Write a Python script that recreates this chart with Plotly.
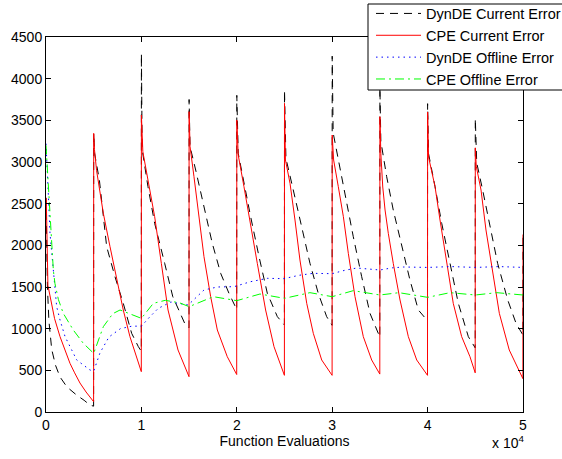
import plotly.graph_objects as go

# ---- data (function evaluations, error) ----
dynde_cur_x = [0, 150, 300, 600, 1000, 1470, 2200, 3200, 4000, 4600, 4990,
               5000, 5100, 5600, 6360, 7230, 8100, 8980, 9680, 9990,
               10000, 10080, 10690, 11390, 12440, 13290, 14540, 14990,
               15000, 15100, 15690, 16560, 17430, 18310, 19180, 19990,
               20000, 20150, 20750, 21450, 22330, 23200, 24250, 24990,
               25000, 25150, 25920, 26800, 27670, 28540, 29420, 29990,
               30000, 30100, 30640, 31340, 32210, 33090, 33960, 34990,
               35000, 35100, 35710, 36400, 37290, 38150, 39030, 39990,
               40000, 40100, 40780, 41480, 42350, 43220, 44270, 44990,
               45000, 45150, 45770, 46470, 47340, 48400, 49270, 49990,
               50000]
dynde_cur = [2570, 1500, 1100, 750, 560, 420, 300, 204, 140, 84, 70,
             3344, 3100, 2780, 1984, 1624, 1304, 944, 784, 730,
             4300, 3150, 2704, 2264, 1784, 1384, 1064, 1010,
             3750, 3184, 2904, 2464, 2024, 1664, 1424, 1230,
             3800, 3104, 2744, 2344, 1864, 1424, 1144, 1045,
             3860, 3044, 2664, 2224, 1784, 1424, 1144, 1040,
             4270, 3350, 3024, 2584, 2104, 1624, 1184, 900,
             3900, 3250, 2824, 2424, 1984, 1584, 1224, 1095,
             3700, 3100, 2704, 2264, 1784, 1304, 904, 770,
             3520, 2990, 2664, 2264, 1784, 1344, 1064, 925,
             2130]

cpe_cur_x = [0, 30, 200, 420, 900, 1470, 2000, 2515, 3000, 3560, 4200, 4790, 4990,
             5000, 5080, 5300, 6010, 6710, 7410, 8100, 8800, 9330, 9990,
             10000, 10150, 10690, 11390, 12090, 12790, 13840, 14990,
             15000, 15100, 15510, 16040, 16560, 17260, 17960, 19000, 19990,
             20000, 20150, 20750, 21450, 22150, 23020, 23900, 24990,
             25000, 25100, 25580, 26100, 26620, 27330, 28020, 28900, 29990,
             30000, 30150, 30640, 31170, 31690, 32390, 33260, 34140, 34990,
             35000, 35100, 35300, 35540, 35880, 36400, 37110, 37980, 38860, 39990,
             40000, 40100, 40780, 41300, 42000, 42690, 43570, 44440, 44990,
             45000, 45100, 45600, 46120, 46820, 47520, 48560, 49990,
             50000]
cpe_cur = [2570, 2560, 1520, 1384, 1120, 904, 730, 584, 470, 348, 240, 144, 124,
           3344, 3150, 2900, 2384, 1984, 1584, 1224, 904, 704, 484,
           3564, 3124, 2784, 2344, 1784, 1224, 744, 424,
           3604, 3184, 2824, 2344, 1864, 1384, 984, 664, 450,
           3504, 3084, 2704, 2264, 1784, 1224, 784, 440,
           3704, 3024, 2744, 2304, 1824, 1304, 944, 624, 440,
           3324, 3024, 2704, 2344, 1904, 1384, 904, 624, 455,
           3544, 3100, 2700, 2424, 2144, 1784, 1344, 904, 624, 440,
           3600, 3060, 2704, 2304, 1784, 1304, 904, 664, 470,
           3170, 2950, 2664, 2184, 1664, 1184, 744, 400,
           2130]

dynde_off_x = [0, 100, 250, 420, 770, 1120, 1470, 2000, 3220, 4610, 5000,
               5660, 6600, 7800, 9000, 10000, 10900, 11770, 13100, 14900,
               16560, 17960, 19710, 21450, 23200, 24950, 26500, 28000, 30000,
               31300, 32570, 35000, 36300, 37500, 40000, 41300, 42500, 45000,
               46300, 47500, 50000]
dynde_off = [3220, 2900, 2600, 2140, 1660, 1264, 1104, 904, 624, 504, 490,
             710, 900, 1000, 1030, 1030, 1144, 1244, 1320, 1284,
             1464, 1500, 1504, 1564, 1604, 1600, 1640, 1664, 1660,
             1700, 1728, 1704, 1730, 1740, 1735, 1742, 1745, 1735,
             1742, 1745, 1735]

cpe_off_x = [0, 100, 250, 420, 600, 770, 940, 1300, 1810, 2860, 3910, 5000,
             6010, 7000, 7760, 9150, 10000, 11250, 12500, 14000, 15000,
             17540, 20000, 22430, 25000, 27670, 30000, 32210, 35000,
             37000, 40000, 42350, 45000, 47240, 50000]
cpe_off = [3200, 3000, 2600, 2250, 1900, 1700, 1540, 1350, 1184, 984, 824, 704,
           1024, 1180, 1224, 1164, 1124, 1304, 1340, 1310, 1264,
           1384, 1336, 1416, 1364, 1432, 1384, 1456, 1404,
           1432, 1376, 1432, 1404, 1432, 1404]

x_tick_vals = [0, 10000, 20000, 30000, 40000, 50000]
x_tick_text = ["0", "1", "2", "3", "4", "5"]
y_tick_vals = [0, 500, 1000, 1500, 2000, 2500, 3000, 3500, 4000, 4500]

FONT = "Liberation Sans, Arial, Helvetica, sans-serif"

# plot area in pixels: left 46, right 523, top 37, bottom 412
L, R, T, B = 46, 523, 37, 412


def px_x(p):
    return (p - L) / (R - L)


def px_y(p):
    return (B - p) / (B - T)


fig = go.Figure()
fig.add_trace(go.Scatter(x=dynde_cur_x, y=dynde_cur, mode="lines",
                         name="DynDE Current Error",
                         line=dict(color="black", width=1, dash="8px,6px")))
fig.add_trace(go.Scatter(x=cpe_cur_x, y=cpe_cur, mode="lines",
                         name="CPE Current Error",
                         line=dict(color="#ff0000", width=1)))
fig.add_trace(go.Scatter(x=dynde_off_x, y=dynde_off, mode="lines",
                         name="DynDE Offline Error",
                         line=dict(color="#0000ff", width=1, dash="1.5px,4px")))
fig.add_trace(go.Scatter(x=cpe_off_x, y=cpe_off, mode="lines",
                         name="CPE Offline Error",
                         line=dict(color="#00ff00", width=1, dash="9px,4px,2px,4px")))

axis_common = dict(showline=True, linecolor="black", linewidth=1, mirror="ticks",
                   ticks="inside", ticklen=5, tickcolor="black", showgrid=False,
                   zeroline=False, tickfont=dict(family=FONT, size=14, color="black"))

fig.update_layout(
    width=562, height=459,
    margin=dict(l=L, r=562 - R, t=T, b=459 - B, autoexpand=False),
    paper_bgcolor="white", plot_bgcolor="white",
    font=dict(family=FONT, size=14, color="black"),
    xaxis=dict(range=[0, 50000], tickvals=x_tick_vals, ticktext=x_tick_text,
               title=dict(text="Function Evaluations", standoff=4,
                          font=dict(family=FONT, size=14, color="black")),
               **axis_common),
    yaxis=dict(range=[0, 4500], tickvals=y_tick_vals, **axis_common),
    legend=dict(x=px_x(371), y=px_y(-2.5), xanchor="left", yanchor="top",
                bgcolor="rgba(0,0,0,0)", borderwidth=0,
                font=dict(family=FONT, size=14.5, color="black"),
                itemwidth=45, tracegroupgap=0),
    showlegend=True,
    # legend frame (runs off the right edge of the figure)
    shapes=[dict(type="rect", xref="paper", yref="paper", layer="above",
                 x0=px_x(368), x1=px_x(620), y0=px_y(90), y1=px_y(4),
                 fillcolor="white", line=dict(color="black", width=1))],
    annotations=[dict(text="x 10<sup>4</sup>", xref="paper", yref="paper",
                      x=px_x(490), y=px_y(442), xanchor="left", yanchor="middle",
                      showarrow=False,
                      font=dict(family=FONT, size=14, color="black"))],
)

fig.write_html("out.html")
